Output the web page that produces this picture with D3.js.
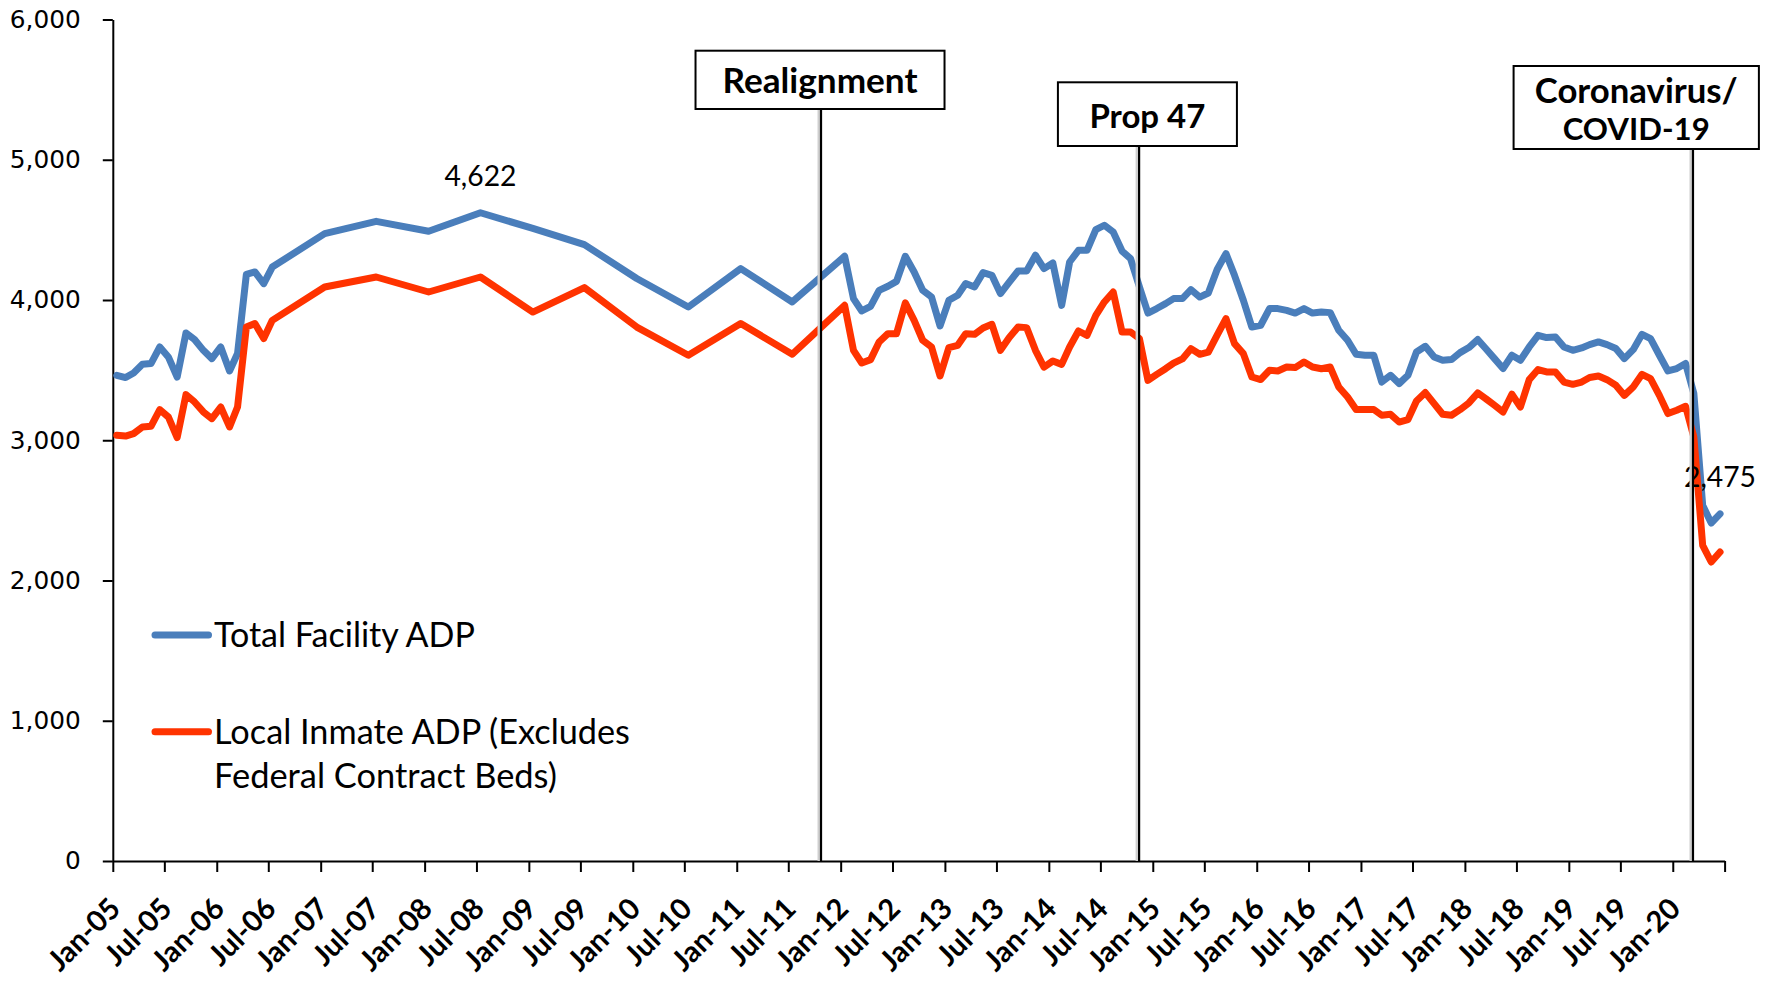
<!DOCTYPE html>
<html>
<head>
<meta charset="utf-8">
<script src="https://cdn.jsdelivr.net/npm/d3@7"></script>
<style>
html,body{margin:0;padding:0;background:#fff;}
svg{display:block;}
</style>
</head>
<body>
<svg id="chart" width="1771" height="982"></svg>
<script>
// ---------------- DATA ----------------
const months = [
  "2005-01","2005-02","2005-03","2005-04","2005-05","2005-06","2005-07","2005-08","2005-09","2005-10","2005-11","2005-12",
  "2006-01","2006-02","2006-03","2006-04","2006-05","2006-06","2006-07",
  "2007-01","2007-07","2008-01","2008-07","2009-01","2009-07","2010-01","2010-07","2011-01","2011-07",
  "2012-01","2012-02","2012-03","2012-04","2012-05","2012-06","2012-07","2012-08","2012-09","2012-10","2012-11","2012-12",
  "2013-01","2013-02","2013-03","2013-04","2013-05","2013-06","2013-07","2013-08","2013-09","2013-10","2013-11","2013-12",
  "2014-01","2014-02","2014-03","2014-04","2014-05","2014-06","2014-07","2014-08","2014-09","2014-10","2014-11","2014-12",
  "2015-01","2015-02","2015-03","2015-04","2015-05","2015-06","2015-07","2015-08","2015-09","2015-10","2015-11","2015-12",
  "2016-01","2016-02","2016-03","2016-04","2016-05","2016-06","2016-07","2016-08","2016-09","2016-10","2016-11","2016-12",
  "2017-01","2017-02","2017-03","2017-04","2017-05","2017-06","2017-07","2017-08","2017-09","2017-10","2017-11","2017-12",
  "2018-01","2018-02","2018-03","2018-04","2018-05","2018-06","2018-07","2018-08","2018-09","2018-10","2018-11","2018-12",
  "2019-01","2019-02","2019-03","2019-04","2019-05","2019-06","2019-07","2019-08","2019-09","2019-10","2019-11","2019-12",
  "2020-01","2020-02","2020-03","2020-04","2020-05","2020-06"
];

const totalADP = [
  3463,3447,3480,3542,3547,3665,3594,3451,3765,3718,3641,3582,
  3665,3494,3618,4183,4200,4117,4235,
  4473,4561,4490,4622,4510,4395,4153,3950,4224,3986,
  4312,4010,3922,3955,4069,4098,4133,4312,4200,4069,4021,3815,
  3998,4034,4117,4093,4195,4176,4046,4128,4207,4207,4319,4224,
  4264,3962,4271,4354,4354,4502,4533,4485,4349,4295,4095,3907,
  3939,3974,4010,4010,4074,4021,4050,4217,4331,4176,3998,3807,
  3820,3939,3939,3926,3907,3939,3907,3914,3910,3784,3713,3613,
  3606,3606,3415,3463,3404,3463,3629,3670,3594,3570,3575,3625,
  3661,3718,3654,3582,3511,3606,3570,3665,3748,3732,3736,3665,
  3641,3658,3682,3701,3682,3654,3582,3646,3755,3725,3606,3494,
  3511,3547,3333,2536,2410,2475
];

const localADP = [
  3035,3030,3047,3095,3099,3218,3166,3019,3325,3273,3202,3154,
  3237,3095,3237,3807,3832,3725,3855,
  4093,4164,4057,4164,3914,4088,3807,3606,3832,3613,
  3962,3641,3551,3575,3701,3760,3760,3979,3855,3713,3665,3458,
  3661,3677,3760,3755,3800,3827,3641,3732,3807,3803,3641,3522,
  3565,3541,3665,3779,3748,3891,3986,4057,3772,3772,3725,3427,
  3470,3510,3550,3580,3653,3613,3629,3750,3867,3689,3618,3451,
  3433,3499,3494,3522,3518,3558,3522,3510,3522,3380,3308,3219,
  3219,3219,3178,3185,3130,3147,3280,3340,3261,3185,3178,3218,
  3266,3337,3297,3249,3201,3328,3237,3432,3504,3487,3487,3415,
  3399,3415,3447,3458,3432,3392,3320,3380,3470,3440,3320,3190,
  3214,3242,3023,2251,2132,2203
];

const seriesNames = ["Total Facility ADP", "Local Inmate ADP (Excludes Federal Contract Beds)"];
const seriesLegendLines = [["Total Facility ADP"], ["Local Inmate ADP (Excludes", "Federal Contract Beds)"]];

const yTickValues = [0, 1000, 2000, 3000, 4000, 5000, 6000];
const xTickLabels = [
  "Jan-05","Jul-05","Jan-06","Jul-06","Jan-07","Jul-07","Jan-08","Jul-08","Jan-09","Jul-09",
  "Jan-10","Jul-10","Jan-11","Jul-11","Jan-12","Jul-12","Jan-13","Jul-13","Jan-14","Jul-14",
  "Jan-15","Jul-15","Jan-16","Jul-16","Jan-17","Jul-17","Jan-18","Jul-18","Jan-19","Jul-19","Jan-20"
];

const eventNames = [["Realignment"], ["Prop 47"], ["Coronavirus/", "COVID-19"]];
const eventDates = ["2011-10-24", "2014-11-14", "2020-03-12"];

const labelledMonths = ["2008-07", "2020-06"]; // data labels on Total Facility ADP

// ---------------- LAYOUT / STYLE ----------------
const W = 1771, H = 982;
const plot = {left: 112.8, right: 1724.6, top: 19.5, bottom: 861};
const colors = ["#4a7ebb", "#ff3300"];
const lineWidth = 7;
const latin = "Lato, 'Noto Sans', sans-serif";

// event box geometry (pixel offsets relative to the event line)
const eventBoxes = [
  {dx0: -125.5, dx1: 123.5, top: 50.7, bottom: 109, baselines: [92.7]},
  {dx0: -81.2, dx1: 97.8, top: 82.3, bottom: 146, baselines: [127.7]},
  {dx0: -179.4, dx1: 65.9, top: 66, bottom: 149, baselines: [103.3, 140]}
];
const eventTextWidths = [[195], [116], [203, 147]];

const svg = d3.select("#chart");
svg.append("rect").attr("width", W).attr("height", H).attr("fill", "#fff");

const parseM = d3.timeParse("%Y-%m");
const parseD = d3.timeParse("%Y-%m-%d");
const dates = months.map(m => d3.timeDay.offset(parseM(m), 14));

const x = d3.scaleTime()
  .domain([new Date(2005, 0, 1), new Date(2020, 6, 1)])
  .range([plot.left, plot.right]);
const y = d3.scaleLinear().domain([0, 6000]).range([plot.bottom, plot.top]);

function fitWidth(sel, target) {
  const w = sel.node().getComputedTextLength();
  const fs = parseFloat(sel.attr("font-size"));
  if (w > 0) sel.attr("font-size", (fs * target / w).toFixed(2));
  return parseFloat(sel.attr("font-size"));
}

// ---------------- AXES ----------------
const yAxis = d3.axisLeft(y).tickValues(yTickValues).tickSize(10).tickSizeOuter(0)
  .tickPadding(22).tickFormat(d3.format(","));
const gy = svg.append("g").attr("transform", `translate(${plot.left},0)`).call(yAxis);
gy.select(".domain").attr("stroke", "#000").attr("stroke-width", 2);
gy.selectAll(".tick line").attr("stroke", "#000").attr("stroke-width", 2);
gy.selectAll(".tick text")
  .attr("font-family", "'DejaVu Sans', sans-serif")
  .attr("font-size", 24)
  .attr("fill", "#000");
{
  const t6 = gy.selectAll(".tick text").filter(d => d === 6000);
  const fs = fitWidth(t6, 71);
  gy.selectAll(".tick text").attr("font-size", fs);
}

const xTickDates = d3.timeMonth.every(6).range(new Date(2005, 0, 1), new Date(2020, 6, 2));
const xAxis = d3.axisBottom(x).tickValues(xTickDates).tickSize(11).tickSizeOuter(0).tickFormat("");
const gx = svg.append("g").attr("transform", `translate(0,${plot.bottom})`).call(xAxis);
gx.select(".domain").attr("stroke", "#000").attr("stroke-width", 2);
gx.selectAll(".tick line").attr("stroke", "#000").attr("stroke-width", 2);

const xLabelG = svg.append("g");
const xLabels = xLabelG.selectAll("text").data(xTickLabels).join("text")
  .attr("transform", (d, i) => `translate(${x(xTickDates[i]) + 2},${plot.bottom + 42}) rotate(-45)`)
  .attr("text-anchor", "end")
  .attr("dy", "0.36em")
  .attr("font-family", latin)
  .attr("font-weight", 700)
  .attr("font-size", 30)
  .attr("fill", "#000")
  .text(d => d);
{
  const sample = xLabels.filter(d => d === "Jan-06");
  const fs = fitWidth(sample, 88);
  xLabels.attr("font-size", fs);
}

// ---------------- SERIES ----------------
const line = d3.line().x(d => x(d.date)).y(d => y(d.value));
const series = [totalADP, localADP].map(vals => vals.map((v, i) => ({date: dates[i], value: v})));

svg.append("g").selectAll("path").data(series).join("path")
  .attr("d", line)
  .attr("fill", "none")
  .attr("stroke", (d, i) => colors[i])
  .attr("stroke-width", lineWidth)
  .attr("stroke-linejoin", "round")
  .attr("stroke-linecap", "round");

// data labels
labelledMonths.forEach(m => {
  const i = months.indexOf(m);
  const t = svg.append("text")
    .attr("x", x(dates[i]))
    .attr("y", y(totalADP[i]) - 27)
    .attr("text-anchor", "middle")
    .attr("font-family", latin)
    .attr("font-size", 27)
    .attr("fill", "#000")
    .text(d3.format(",")(totalADP[i]));
  fitWidth(t, 72);
});

// ---------------- EVENTS ----------------
eventNames.forEach((lines, k) => {
  const ex = x(parseD(eventDates[k]));
  const b = eventBoxes[k];
  const g = svg.append("g");
  // vertical line with faint shadow
  g.append("line").attr("x1", ex - 1.5).attr("x2", ex - 1.5).attr("y1", b.bottom).attr("y2", plot.bottom)
    .attr("stroke", "#cfcfcf").attr("stroke-width", 4);
  g.append("line").attr("x1", ex).attr("x2", ex).attr("y1", b.bottom).attr("y2", plot.bottom)
    .attr("stroke", "#000").attr("stroke-width", 2.2);
  g.append("rect")
    .attr("x", ex + b.dx0).attr("y", b.top)
    .attr("width", b.dx1 - b.dx0).attr("height", b.bottom - b.top)
    .attr("fill", "#fff").attr("stroke", "#000").attr("stroke-width", 2);
  lines.forEach((txt, j) => {
    const t = g.append("text")
      .attr("x", ex + (b.dx0 + b.dx1) / 2)
      .attr("y", b.baselines[j])
      .attr("text-anchor", "middle")
      .attr("font-family", latin)
      .attr("font-weight", 700)
      .attr("font-size", 31)
      .attr("fill", "#000")
      .text(txt);
    fitWidth(t, eventTextWidths[k][j]);
  });
});

// ---------------- LEGEND ----------------
const legendRows = [
  {lineY: 635, baselines: [646.7], widths: [261]},
  {lineY: 731.7, baselines: [744, 788.3], widths: [416, 343]}
];
const lg = svg.append("g");
seriesLegendLines.forEach((lines, i) => {
  const r = legendRows[i];
  lg.append("line").attr("x1", 155).attr("x2", 208.5).attr("y1", r.lineY).attr("y2", r.lineY)
    .attr("stroke", colors[i]).attr("stroke-width", lineWidth).attr("stroke-linecap", "round");
  lines.forEach((txt, j) => {
    const t = lg.append("text")
      .attr("x", 214).attr("y", r.baselines[j])
      .attr("font-family", latin)
      .attr("font-size", 31)
      .attr("fill", "#000")
      .text(txt);
    fitWidth(t, r.widths[j]);
  });
});
</script>
</body>
</html>
